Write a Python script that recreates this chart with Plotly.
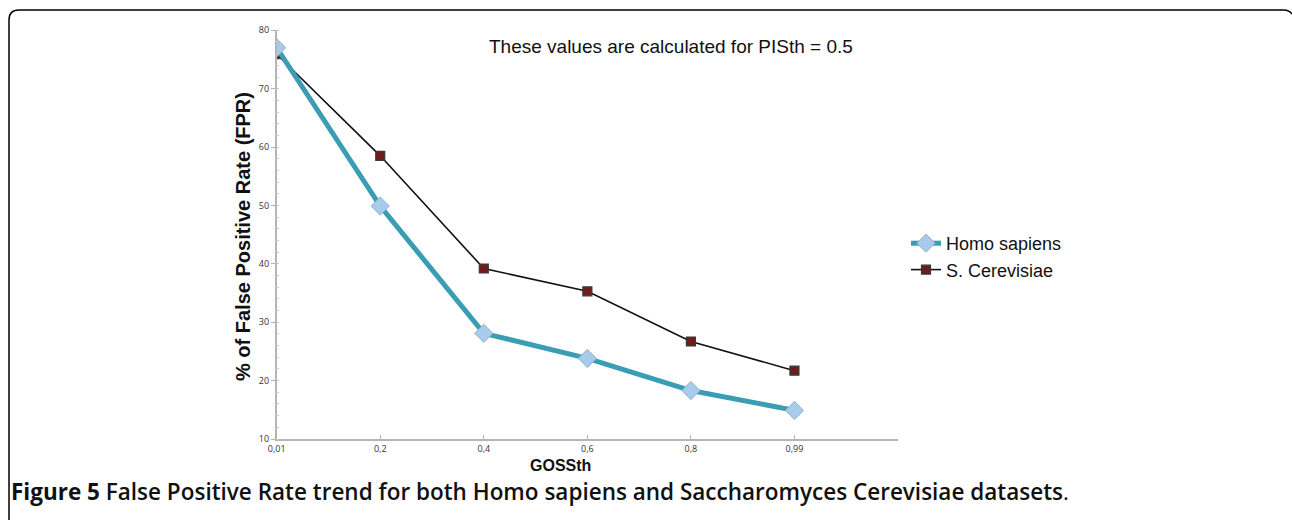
import plotly.graph_objects as go

categories = ["0,01", "0,2", "0,4", "0,6", "0,8", "0,99"]
homo_sapiens = [77.0, 49.9, 28.1, 23.8, 18.3, 14.9]
s_cerevisiae = [75.9, 58.5, 39.2, 35.3, 26.7, 21.7]

W, H = 1292, 520
idx = list(range(len(categories)))

fig = go.Figure()
fig.add_trace(go.Scatter(
    x=idx, y=s_cerevisiae, name="S. Cerevisiae", mode="lines+markers",
    line=dict(color="#111111", width=1.6),
    marker=dict(symbol="square", size=9, color="#6e1c1c",
                line=dict(color="#3a3a3a", width=1.2)),
))
fig.add_trace(go.Scatter(
    x=idx, y=homo_sapiens, name="Homo sapiens", mode="lines+markers",
    line=dict(color="#3a9db3", width=5),
    marker=dict(symbol="diamond", size=14, color="#a9cbea",
                line=dict(color="#8fb3d3", width=1)),
))

def px(x):
    return x / W

def py(y):
    return 1 - y / H

x0, x1 = 276.7, 898
y0, y1 = 30.3, 439

fig.update_layout(
    width=W, height=H,
    margin=dict(l=0, r=0, t=0, b=0, pad=0, autoexpand=False),
    paper_bgcolor="white", plot_bgcolor="white",
    showlegend=True,
    legend=dict(x=px(906), y=py(225), xanchor="left", yanchor="top",
                font=dict(family="Liberation Sans, Arial", size=18, color="#111111"),
                traceorder="reversed", itemwidth=30,
                bgcolor="rgba(0,0,0,0)"),
    xaxis=dict(domain=[px(x0), px(x1)], range=[0, 6],
               tickvals=idx + [6], ticktext=categories + [""],
               ticks="inside", ticklen=4, tickcolor="#b5b5b5",
               showline=True, linecolor="#b5b5b5", linewidth=1.5,
               showgrid=False, zeroline=False, automargin=False,
               tickfont=dict(family="Open Sans, Noto Sans", size=9, color="#333333")),
    yaxis=dict(domain=[py(y1), py(y0)], range=[10, 80], dtick=10,
               ticks="outside", ticklen=4, tickcolor="#b5b5b5",
               showline=True, linecolor="#b5b5b5", linewidth=1.5,
               showgrid=False, zeroline=False, automargin=False,
               minor=dict(dtick=2, ticks="inside", ticklen=3, tickcolor="#c8c8c8"),
               tickfont=dict(family="Open Sans, Noto Sans", size=9, color="#333333")),
    annotations=[
        dict(text="These values are calculated for PISth = 0.5", x=px(487), y=py(46),
             xref="paper", yref="paper", xanchor="left", yanchor="middle", showarrow=False,
             font=dict(family="Liberation Sans, Arial", size=19, color="#111111")),
        dict(text="<b>% of False Positive Rate (FPR)</b>", x=px(243), y=py(237),
             xref="paper", yref="paper", xanchor="center", yanchor="middle", showarrow=False,
             textangle=-90,
             font=dict(family="Liberation Sans, Arial", size=20, color="#111111")),
        dict(text="<b>GOSSth</b>", x=px(560), y=py(465),
             xref="paper", yref="paper", xanchor="center", yanchor="middle", showarrow=False,
             font=dict(family="Liberation Sans, Arial", size=16, color="#111111")),
        dict(text="<b>Figure 5</b> <span style='font-weight:600'>False Positive Rate trend for both Homo sapiens and Saccharomyces Cerevisiae datasets</span>.",
             x=px(9), y=py(491),
             xref="paper", yref="paper", xanchor="left", yanchor="middle", showarrow=False,
             font=dict(family="Open Sans, Noto Sans", size=22.5, color="#111111")),
    ],
    shapes=[
        dict(type="path", xref="paper", yref="paper",
             path=f"M {px(9)},{py(520)} L {px(9)},{py(20)} Q {px(9)},{py(10)} {px(19)},{py(10)} "
                  f"L {px(1284)},{py(10)} Q {px(1289)},{py(10)} {px(1292)},{py(14)}",
             line=dict(color="black", width=1.5)),
    ],
)

fig.write_html(
    "out.html",
    config={"displayModeBar": False},
    post_script="document.body.style.margin='0';document.body.style.overflow='hidden';",
)
